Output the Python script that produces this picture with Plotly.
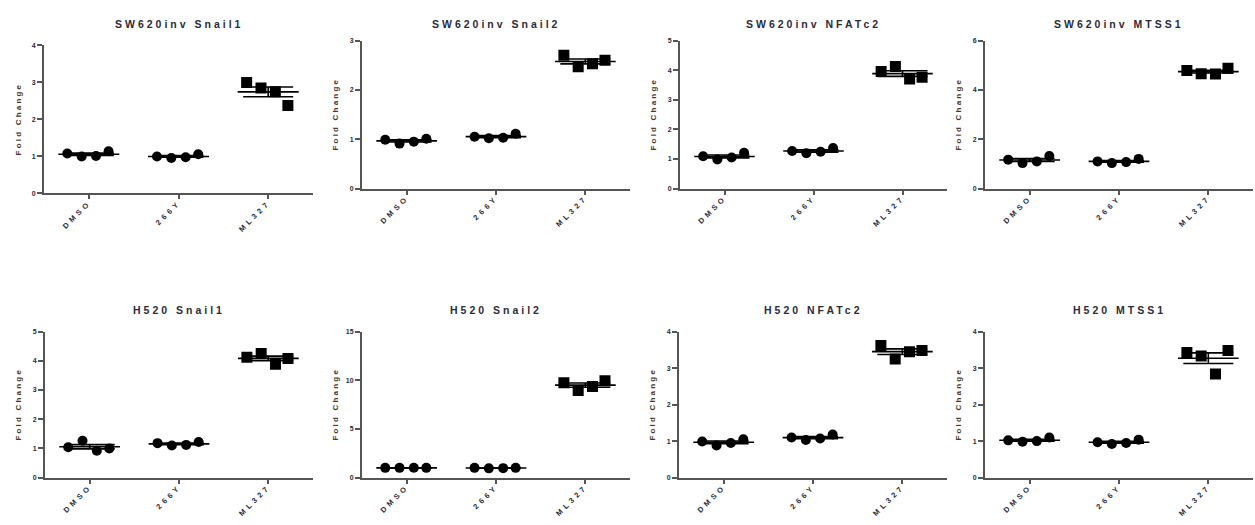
import numpy as np
import plotly.graph_objects as go

categories = ["DMSO", "266Y", "ML327"]

titles = ["SW620inv Snail1", "SW620inv Snail2", "SW620inv NFATc2", "SW620inv MTSS1",
          "H520 Snail1", "H520 Snail2", "H520 NFATc2", "H520 MTSS1"]

# values per group: DMSO, 266Y, ML327 (4 replicates each)
sw620_snail1 = [[1.08, 1.00, 1.01, 1.14], [1.00, 0.96, 0.98, 1.06], [3.00, 2.85, 2.75, 2.38]]
sw620_snail2 = [[0.99, 0.91, 0.95, 1.01], [1.05, 1.02, 1.03, 1.11], [2.70, 2.47, 2.53, 2.60]]
sw620_nfatc2 = [[1.09, 0.98, 1.05, 1.21], [1.27, 1.19, 1.24, 1.37], [3.95, 4.12, 3.70, 3.76]]
sw620_mtss1 = [[1.17, 1.03, 1.10, 1.32], [1.10, 1.03, 1.07, 1.20], [4.78, 4.65, 4.64, 4.88]]
h520_snail1 = [[1.04, 1.26, 0.92, 1.00], [1.18, 1.10, 1.12, 1.22], [4.12, 4.25, 3.88, 4.08]]
h520_snail2 = [[1.00, 1.00, 1.01, 1.00], [1.00, 0.95, 0.97, 1.00], [9.75, 8.95, 9.35, 9.95]]
h520_nfatc2 = [[0.99, 0.88, 0.95, 1.05], [1.10, 1.03, 1.07, 1.18], [3.62, 3.25, 3.45, 3.48]]
h520_mtss1 = [[1.02, 0.98, 1.00, 1.10], [0.97, 0.92, 0.95, 1.04], [3.43, 3.33, 2.84, 3.48]]

panels = [sw620_snail1, sw620_snail2, sw620_nfatc2, sw620_mtss1,
          h520_snail1, h520_snail2, h520_nfatc2, h520_mtss1]

y_max = [4, 3, 5, 6, 5, 15, 4, 4]
y_dtick = [1, 1, 1, 2, 1, 5, 1, 1]

# ---- layout geometry (pixels) ----
W, H = 1255, 525
x_px = [(44, 313), (362, 630), (680, 947), (985, 1253),
        (45, 313), (362, 630), (679, 947), (985, 1253)]
y_px = [(42, 192), (37, 187), (37, 187), (37, 187),
        (332, 480), (332, 480), (332, 480), (332, 480)]
title_y_px = [20, 20, 20, 20, 310, 310, 310, 310]

offsets = [-0.24, -0.08, 0.08, 0.22]
mean_half = 0.34
cap_px = 25
axis_col = "#555555"
text_col = "#2b2b3a"
ytitle_col = "#4a3626"
symbols = ["circle", "circle", "square"]
sizes = [10, 10, 11]

fig = go.Figure()
layout = dict(width=W, height=H, margin=dict(l=0, r=0, t=0, b=0),
              paper_bgcolor="white", plot_bgcolor="white", showlegend=False,
              font=dict(family="Liberation Sans, Arial, sans-serif", color=text_col))
annotations = []

def sp(txt, ls):
    return f'<span style="letter-spacing:{ls}px">{txt}</span>'

for k, data in enumerate(panels):
    ax = "" if k == 0 else str(k + 1)
    xa, ya = "x" + ax, "y" + ax
    x0, x1 = x_px[k]
    yt, yb = y_px[k]
    for i, vals in enumerate(data):
        vals = np.array(vals)
        m = vals.mean()
        sem = vals.std(ddof=1) / np.sqrt(len(vals))
        fig.add_trace(go.Scatter(x=[i + o for o in offsets], y=vals, mode="markers",
                                 marker=dict(symbol=symbols[i], size=sizes[i], color="black"),
                                 xaxis=xa, yaxis=ya, hoverinfo="y"))
        fig.add_trace(go.Scatter(x=[i - mean_half, i + mean_half], y=[m, m], mode="lines",
                                 line=dict(color="black", width=1.6),
                                 xaxis=xa, yaxis=ya, hoverinfo="skip"))
        fig.add_trace(go.Scatter(x=[i], y=[m], mode="markers", marker=dict(size=1, color="rgba(0,0,0,0)"),
                                 error_y=dict(type="data", array=[sem], visible=True,
                                              color="black", thickness=1.6, width=cap_px),
                                 xaxis=xa, yaxis=ya, hoverinfo="skip"))
    xkey = "xaxis" + ax
    ykey = "yaxis" + ax
    layout[xkey] = dict(domain=[x0 / W, x1 / W], range=[-0.5, 2.5], anchor=ya,
                        tickvals=[0, 1, 2], ticktext=[sp(c, 3.5) for c in categories],
                        tickangle=-45, ticks="outside", ticklen=4, tickwidth=1.5,
                        tickcolor=axis_col, showline=True, linecolor=axis_col, linewidth=2,
                        showgrid=False, zeroline=False, ticklabelstandoff=-4,
                        tickfont=dict(size=7.5, weight="bold", color=text_col))
    ticks = list(range(0, y_max[k] + 1, y_dtick[k]))
    layout[ykey] = dict(domain=[1 - yb / H, 1 - yt / H], range=[0, y_max[k]], anchor=xa,
                        tickvals=ticks, ticktext=[str(t) for t in ticks],
                        ticks="outside", ticklen=5, tickwidth=1.5, tickcolor=axis_col,
                        showline=True, linecolor=axis_col, linewidth=2,
                        showgrid=False, zeroline=False,
                        tickfont=dict(size=7, weight="bold", color=text_col))
    annotations.append(dict(text=sp(titles[k], 3), xref=xa + " domain", yref="paper",
                            x=0.5, y=1 - title_y_px[k] / H, xanchor="center",
                            yanchor="middle", showarrow=False,
                            font=dict(size=10.5, weight="bold", color=text_col)))
    annotations.append(dict(text=sp("Fold Change", 2.2), xref=xa + " domain", yref=ya + " domain",
                            x=-26 / (x1 - x0), y=0.5, xanchor="center", yanchor="middle",
                            textangle=-90, showarrow=False,
                            font=dict(size=8, weight="bold", color=ytitle_col)))

layout["annotations"] = annotations
fig.update_layout(**layout)
fig.write_html("out.html")
